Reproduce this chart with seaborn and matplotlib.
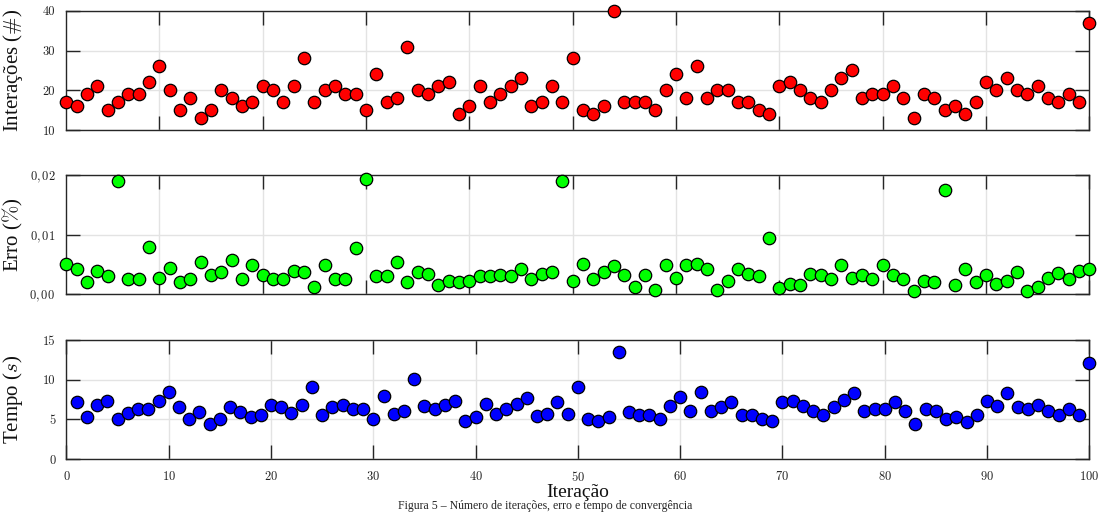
import numpy as np
import pandas as pd
import matplotlib
matplotlib.use("Agg")
import matplotlib.pyplot as plt
import seaborn as sns
from matplotlib.ticker import FixedLocator, FixedFormatter

iteracoes = [17, 16, 19, 21, 15, 17, 19, 19, 22, 26,
             20, 15, 18, 13, 15, 20, 18, 16, 17, 21,
             20, 17, 21, 28, 17, 20, 21, 19, 19, 15,
             24, 17, 18, 31, 20, 19, 21, 22, 14, 16,
             21, 17, 19, 21, 23, 16, 17, 21, 17, 28,
             15, 14, 16, 40, 17, 17, 17, 15, 20, 24,
             18, 26, 18, 20, 20, 17, 17, 15, 14, 21,
             22, 20, 18, 17, 20, 23, 25, 18, 19, 19,
             21, 18, 13, 19, 18, 15, 16, 14, 17, 22,
             20, 23, 20, 19, 21, 18, 17, 19, 17, 37]

erro = [0.0051, 0.0043, 0.0020, 0.0039, 0.0031, 0.0190, 0.0026, 0.0025, 0.0080, 0.0028,
        0.0045, 0.0020, 0.0025, 0.0054, 0.0033, 0.0038, 0.0058, 0.0025, 0.0049, 0.0033,
        0.0025, 0.0026, 0.0039, 0.0038, 0.0012, 0.0049, 0.0026, 0.0026, 0.0077, 0.0193,
        0.0031, 0.0031, 0.0054, 0.0021, 0.0038, 0.0034, 0.0016, 0.0023, 0.0020, 0.0023,
        0.0031, 0.0031, 0.0033, 0.0031, 0.0042, 0.0025, 0.0034, 0.0038, 0.0190, 0.0023,
        0.0051, 0.0026, 0.0038, 0.0048, 0.0033, 0.0012, 0.0033, 0.0008, 0.0049, 0.0028,
        0.0049, 0.0051, 0.0043, 0.0008, 0.0023, 0.0043, 0.0034, 0.0031, 0.0094, 0.0010,
        0.0018, 0.0015, 0.0034, 0.0033, 0.0026, 0.0049, 0.0028, 0.0033, 0.0025, 0.0049,
        0.0033, 0.0026, 0.0005, 0.0023, 0.0021, 0.0175, 0.0016, 0.0043, 0.0020, 0.0033,
        0.0018, 0.0023, 0.0038, 0.0005, 0.0012, 0.0028, 0.0036, 0.0026, 0.0040, 0.0042]

tempo = [7.17, 5.32, 6.84, 7.30, 5.02, 5.78, 6.33, 6.33, 7.30, 8.52,
         6.58, 5.02, 5.91, 4.47, 5.06, 6.58, 5.91, 5.32, 5.61, 6.84,
         6.58, 5.78, 6.84, 9.11, 5.61, 6.58, 6.84, 6.33, 6.33, 5.06,
         7.97, 5.74, 6.08, 10.04, 6.75, 6.33, 6.84, 7.30, 4.81, 5.32,
         7.00, 5.74, 6.33, 7.00, 7.72, 5.49, 5.74, 7.17, 5.74, 9.11,
         5.06, 4.77, 5.32, 13.54, 5.91, 5.61, 5.61, 5.06, 6.75, 7.85,
         6.08, 8.52, 6.08, 6.58, 7.17, 5.61, 5.61, 5.06, 4.77, 7.17,
         7.30, 6.75, 6.03, 5.61, 6.58, 7.43, 8.27, 6.03, 6.33, 6.33,
         7.17, 6.03, 4.47, 6.33, 6.03, 5.06, 5.32, 4.64, 5.61, 7.30,
         6.75, 8.27, 6.54, 6.33, 6.88, 6.03, 5.61, 6.33, 5.61, 12.07]

iteracao = list(range(1, 101))

ylabels = ["Interações ($\\#$)", "Erro ($\\%$)", "Tempo ($s$)"]
yticks = [[10, 20, 30, 40], [0.0, 0.01, 0.02], [0, 5, 10, 15]]
yticklabels = [["10", "20", "30", "40"], ["$0,00$", "$0,01$", "$0,02$"], ["0", "5", "10", "15"]]
ylims = [(10, 40), (0, 0.02), (0, 15)]
xlims = [(1, 100), (1, 100), (0, 100)]
xticks = list(range(0, 101, 10))
colors = ["#ff0000", "#00ff00", "#0000ff"]
caption = "Figura 5 – Número de iterações, erro e tempo de convergência"

df = pd.DataFrame({"Iteracao": iteracao, "Iteracoes": iteracoes,
                   "Erro": erro, "Tempo": tempo})
cols = ["Iteracoes", "Erro", "Tempo"]

sns.set_theme(style="white")
plt.rcParams["font.family"] = ["cmr10", "DejaVu Serif"]
plt.rcParams["mathtext.fontset"] = "cm"
plt.rcParams["axes.formatter.use_mathtext"] = True
plt.rcParams["axes.unicode_minus"] = False

label_font = ["Liberation Serif", "DejaVu Serif"]

fig = plt.figure(figsize=(11.04, 5.12), dpi=100)
left, width = 0.0602, 0.9265
bottoms = [0.746, 0.425, 0.103]
height = 0.233

for i in range(3):
    ax = fig.add_axes([left, bottoms[i], width, height])
    sns.scatterplot(data=df, x="Iteracao", y=cols[i], ax=ax, color=colors[i],
                    s=80, edgecolor="black", linewidth=0.9, zorder=3,
                    clip_on=False, legend=False)
    ax.set_xlim(*xlims[i])
    ax.set_ylim(*ylims[i])
    ax.xaxis.set_major_locator(FixedLocator(xticks))
    ax.yaxis.set_major_locator(FixedLocator(yticks[i]))
    ax.yaxis.set_major_formatter(FixedFormatter(yticklabels[i]))
    ax.grid(True, color="#e3e3e3", linewidth=1.0, zorder=0)
    ax.set_axisbelow(True)
    for sp in ax.spines.values():
        sp.set_visible(True)
        sp.set_color("#262626")
        sp.set_linewidth(1.0)
    ax.tick_params(direction="in", length=10, width=1.0, color="#262626",
                   top=True, right=True, bottom=True, left=True,
                   labelsize=9, pad=8, labelcolor="#222222")
    ax.set_ylabel(ylabels[i], fontsize=15, color="#111111", family=label_font)
    ax.yaxis.set_label_coords(-0.041, 0.5)
    if i < 2:
        ax.tick_params(labelbottom=False)
        ax.set_xlabel("")
    else:
        ax.set_xlabel("Iteração", fontsize=14, color="#111111", labelpad=0,
                      family=label_font)

fig.text(0.494, 0.5 / 512, caption,
         ha="center", va="bottom", fontsize=8.5, family=label_font)

fig.savefig("out.png", dpi=100)
